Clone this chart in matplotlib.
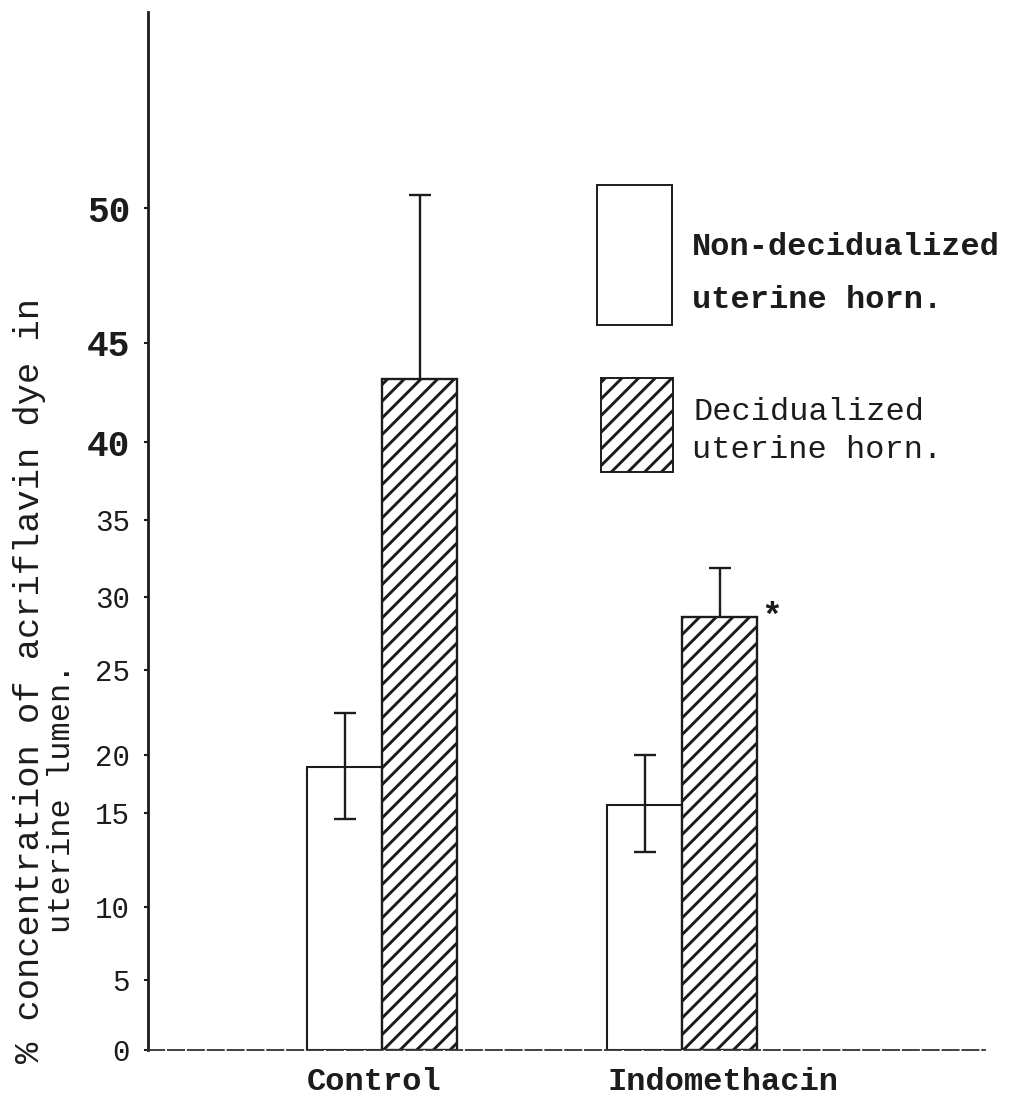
import numpy as np
import matplotlib
matplotlib.use("Agg")
import matplotlib.pyplot as plt
from matplotlib.patches import Rectangle

# -----------------------------------------------------------------------------
# data
# -----------------------------------------------------------------------------
groups = ['Control', 'Indomethacin']
non_decid = [19.0, 15.7]
non_decid_err_low = [4.3, 2.8]
non_decid_err_high = [3.5, 4.3]
decid = [43.2, 28.6]
decid_err = [7.3, 3.3]
y_ticks = [0, 5, 10, 15, 20, 25, 30, 35, 40, 45, 50]

# the hand typed axis is not evenly spaced: height (px above baseline) of each tick
tick_height = [0, 70, 143, 237, 295, 380, 453, 530, 608, 707, 842]
vals_ext = np.array([-10] + y_ticks + [100], dtype=float)
h_ext = np.array([-140] + tick_height + [842 + 50 * 26.8], dtype=float)


def fwd(v):
    return np.interp(v, vals_ext, h_ext)


def inv(h):
    return np.interp(h, h_ext, vals_ext)


plt.rcParams['hatch.linewidth'] = 2.1
plt.rcParams['font.family'] = ['Liberation Mono', 'DejaVu Sans Mono']
ink = '#1c1c1c'

W, H = 1009, 1101
fig = plt.figure(figsize=(W / 100, H / 100), dpi=100)
fig.patch.set_facecolor('white')

# axes box in pixels: y axis at x=148, baseline at y=1050, top of axis y=12, right end 985
ax = fig.add_axes([148 / W, (H - 1050) / H, (985 - 148) / W, (1050 - 12) / H])
ax.set_yscale('function', functions=(fwd, inv))
ax.set_ylim(0, inv(1038))
ax.set_xlim(-0.78, 2.01)

x = np.arange(len(groups))
w = 0.25

ax.bar(x - w / 2, non_decid, w, color='white', edgecolor=ink, linewidth=1.5, zorder=2)
ax.errorbar(x - w / 2, non_decid, yerr=[non_decid_err_low, non_decid_err_high], fmt='none',
            ecolor=ink, elinewidth=1.7, capsize=8, capthick=1.7, zorder=3)

ax.bar(x + w / 2, decid, w, color='white', edgecolor=ink, linewidth=1.7, hatch='//', zorder=2)
ax.errorbar(x + w / 2, decid, yerr=decid_err, fmt='none',
            ecolor=ink, elinewidth=1.7, capsize=8, capthick=1.7, zorder=1)

# significance mark
ax.annotate('*', xy=(x[1] + w, decid[1]), xytext=(3, 0), textcoords='offset points',
            ha='left', va='center', fontsize=25, fontweight='bold', color=ink)

# axes styling
for s in ['top', 'right']:
    ax.spines[s].set_visible(False)
ax.spines['left'].set_linewidth(2.0)
ax.spines['left'].set_color(ink)
ax.spines['bottom'].set_linewidth(1.3)
ax.spines['bottom'].set_color('#333333')
ax.spines['bottom'].set_linestyle((0, (9, 2)))

ax.set_yticks(y_ticks)
ax.set_yticklabels([str(t) for t in y_ticks])
ax.tick_params(axis='y', length=3, width=1.5, pad=10, colors=ink, labelsize=21)
for lab in ax.get_yticklabels():
    if lab.get_text() in ('40', '45', '50'):
        lab.set_fontsize(26)
        lab.set_fontweight('bold')

ax.set_xticks(x - w)
ax.set_xticklabels(groups, ha='left', fontsize=23, fontweight='bold', color=ink)
ax.tick_params(axis='x', length=0, pad=12)

# y label, typed in two lines
fig.text(30 / W, (H - 1063) / H, '% concentration of acriflavin dye in', rotation=90,
         ha='center', va='bottom', fontsize=25.5, color=ink)
fig.text(62 / W, (H - 933) / H, 'uterine lumen.', rotation=90,
         ha='center', va='bottom', fontsize=23, color=ink)

# legend, drawn by hand like the original
fig.add_artist(Rectangle((597 / W, (H - 325) / H), 75 / W, 140 / H, transform=fig.transFigure,
                         facecolor='white', edgecolor=ink, linewidth=1.4))
fig.add_artist(Rectangle((601 / W, (H - 472) / H), 72 / W, 94 / H, transform=fig.transFigure,
                         facecolor='white', edgecolor=ink, linewidth=1.4, hatch='//'))
fig.text(692 / W, (H - 255) / H, 'Non-decidualized', fontsize=23, fontweight='bold',
         va='baseline', ha='left', color=ink)
fig.text(692 / W, (H - 308) / H, 'uterine horn.', fontsize=23, fontweight='bold',
         va='baseline', ha='left', color=ink)
fig.text(693 / W, (H - 420) / H, 'Decidualized', fontsize=23,
         va='baseline', ha='left', color=ink)
fig.text(692 / W, (H - 458) / H, 'uterine horn.', fontsize=23,
         va='baseline', ha='left', color=ink)

fig.savefig('out.png', dpi=100, facecolor='white')
